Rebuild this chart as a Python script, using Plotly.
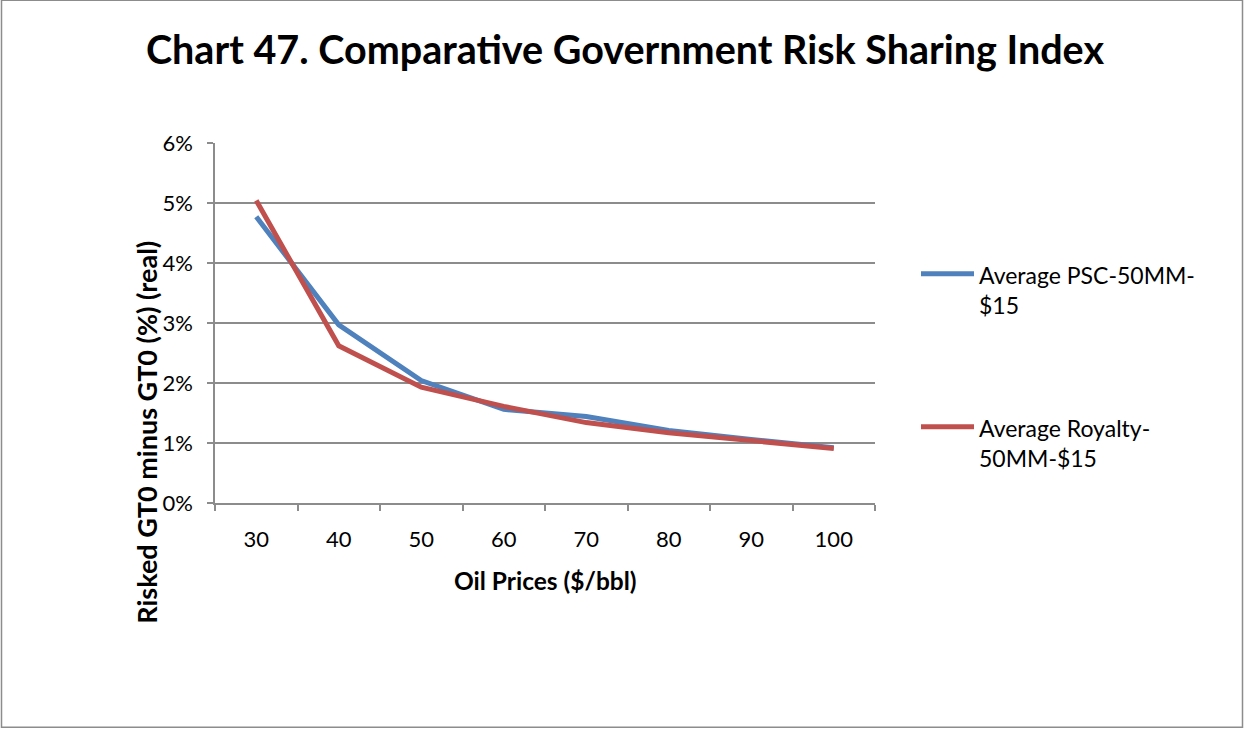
import plotly.graph_objects as go

# Oil price scenarios ($/bbl) and risk-sharing index values (fractions)
prices = ["30", "40", "50", "60", "70", "80", "90", "100"]
psc_values = [0.0477, 0.0297, 0.0204, 0.0156, 0.0144, 0.0121, 0.0106, 0.0092]
royalty_values = [0.0504, 0.0262, 0.0193, 0.0161, 0.0134, 0.0117, 0.0104, 0.0091]
series_names = ["Average PSC-50MM-<br>$15", "Average Royalty-<br>50MM-$15"]
series_colors = ["#4F81BD", "#C0504D"]
y_ticks = [0, 0.01, 0.02, 0.03, 0.04, 0.05, 0.06]

W, H = 1244, 729
L, R, T, B = 215, 875, 143.3, 503.3
FONT = "Lato"
GRID = "#8c8c8c"

fig = go.Figure()
for name, vals, color in zip(series_names, [psc_values, royalty_values], series_colors):
    fig.add_trace(go.Scatter(x=prices, y=vals, mode="lines", name=name,
                             line=dict(color=color, width=5), showlegend=False))


def px_x(x):
    return (x - L) / (R - L)


def px_y(y):
    return (B - y) / (B - T)


# Legend drawn beside the plot: a short line swatch followed by wrapped text
legend_rows = [274, 427]
shapes = []
annotations = []
for name, color, yrow in zip(series_names, series_colors, legend_rows):
    shapes.append(dict(type="line", xref="paper", yref="paper",
                       x0=px_x(921), x1=px_x(974), y0=px_y(yrow), y1=px_y(yrow),
                       line=dict(color=color, width=5)))
    annotations.append(dict(text=name, xref="paper", yref="paper",
                            x=px_x(977), y=px_y(yrow - 15), xanchor="left", yanchor="top",
                            align="left", showarrow=False, font=dict(size=23)))

annotations += [
    dict(text="<b>Oil Prices ($/bbl)</b>", xref="paper", yref="paper",
         x=px_x(545), y=px_y(581), xanchor="center", yanchor="middle",
         showarrow=False, font=dict(size=24.5)),
    dict(text="<b>Risked GT0 minus GT0 (%) (real)</b>", xref="paper", yref="paper",
         x=px_x(147), y=px_y(433), xanchor="center", yanchor="middle",
         textangle=-90, showarrow=False, font=dict(size=27)),
]

shapes.append(dict(type="rect", xref="paper", yref="paper",
                   x0=px_x(1.5), x1=px_x(1242.5), y0=px_y(727.5), y1=px_y(0.5),
                   line=dict(color="#8c8c8c", width=1.5), fillcolor="rgba(0,0,0,0)",
                   layer="below"))

fig.update_layout(
    width=W, height=H,
    margin=dict(l=L, r=W - R, t=T, b=H - B, pad=0),
    paper_bgcolor="white", plot_bgcolor="white",
    font=dict(family=FONT, color="black", size=22),
    title=dict(text="<b>Chart 47. Comparative Government Risk Sharing Index</b>",
               xref="container", x=625 / W, xanchor="center", y=1 - 50 / H, yanchor="middle",
               font=dict(size=39.5, family=FONT)),
    xaxis=dict(type="category", range=[-0.5, 7.5], showgrid=False, showline=True,
               linecolor=GRID, linewidth=1.5,
               ticks="outside", tickson="boundaries", ticklen=6, tickcolor=GRID, tickwidth=1.5,
               tickfont=dict(size=22), ticklabelstandoff=16, title=None),
    yaxis=dict(range=[0, 0.06], tickvals=y_ticks, tickformat=".0%", showgrid=True,
               gridcolor=GRID, gridwidth=1.5, showline=True, linecolor=GRID, linewidth=1.5,
               ticks="outside", ticklen=6, tickcolor=GRID, tickwidth=1.5,
               tickfont=dict(size=22), ticklabelstandoff=10, zeroline=False, title=None),
    showlegend=False,
    annotations=annotations,
    shapes=shapes,
)

fig.write_html("out.html")
